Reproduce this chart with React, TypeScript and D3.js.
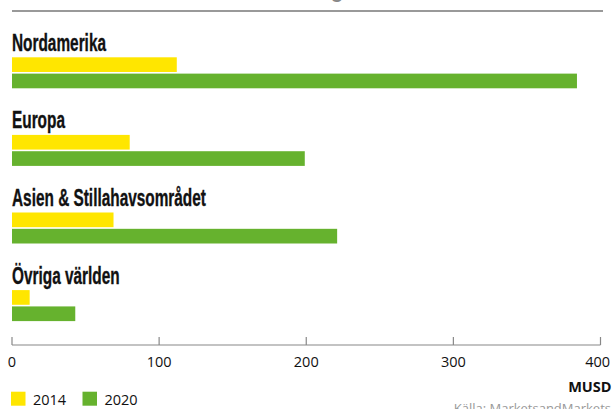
import React from 'react';
import * as d3 from 'd3';

// Marknadsdata per region (MUSD)
const regions = ['Nordamerika', 'Europa', 'Asien & Stillahavsområdet', 'Övriga världen'];
const years = ['2014', '2020'];
const values2014 = [112, 80, 69, 12];
const values2020 = [384, 199, 221, 43];
const xTicks = [0, 100, 200, 300, 400];
const unitLabel = 'MUSD';
const sourceLabel = 'Källa: MarketsandMarkets';

const colors = ['#ffe600', '#66b22e'];
const W = 613;
const H = 409;

const App: React.FC = () => {
  const x = d3.scaleLinear().domain([0, 400]).range([12, 600.5]);
  const groupStep = 77.6;
  const y = d3.scaleBand<string>()
    .domain(regions)
    .range([57.3, 57.3 + groupStep * regions.length])
    .padding(0);
  const inner = d3.scaleBand<string>()
    .domain(years)
    .range([0, 31])
    .paddingInner(0.1);

  const series = [values2014, values2020];
  const axisY = 345;
  // condensed look: Arial-like bold squeezed horizontally
  const labelFont = "'Liberation Sans', Arial, sans-serif";
  const bodyFont = "'Open Sans', 'Noto Sans', sans-serif";

  return (
    <svg width={W} height={H} style={{ position: 'absolute', left: 0, top: 0, display: 'block' }}>
      <rect width={W} height={H} fill="#fff" />

      {/* cut-off title above + rule */}
      <text x={331} y={-2} fontFamily={labelFont} fontWeight="bold" fontSize={20} fill="#888">g</text>
      <line x1={12} x2={603} y1={11} y2={11} stroke="#999" strokeWidth={2} />

      {regions.map((r, i) => {
        const y0 = y(r)!;
        return (
          <g key={r}>
            <text
              x={12}
              y={y0 - 6.5}
              fontFamily={labelFont}
              fontWeight="bold"
              fontSize={23.3}
              fill="#111"
              stroke="#111"
              strokeWidth={0.35}
              transform="translate(12,0) scale(0.66,1) translate(-12,0)"
            >
              {r}
            </text>
            {years.map((yr, j) => (
              <rect
                key={yr}
                x={x(0)}
                y={y0 + inner(yr)!}
                width={x(series[j][i]) - x(0)}
                height={inner.bandwidth()}
                fill={colors[j]}
              />
            ))}
          </g>
        );
      })}

      {/* x axis */}
      <line x1={x(0)} x2={x(400)} y1={axisY} y2={axisY} stroke="#888" strokeWidth={1.2} />
      {xTicks.map((t, i) => (
        <g key={t}>
          <line x1={x(t)} x2={x(t)} y1={axisY - 8} y2={axisY} stroke="#888" strokeWidth={1.2} />
          <text
            x={i === xTicks.length - 1 ? 610 : x(t)}
            y={367}
            textAnchor={i === xTicks.length - 1 ? 'end' : 'middle'}
            fontFamily={bodyFont}
            fontSize={14.5}
            fill="#111"
          >
            {t}
          </text>
        </g>
      ))}
      <text x={611.5} y={391.5} textAnchor="end" fontFamily={bodyFont} fontWeight="bold" fontSize={14.5} fill="#111">
        {unitLabel}
      </text>

      {/* legend */}
      {years.map((yr, j) => (
        <g key={yr} transform={`translate(${11 + j * 71.5},391.7)`}>
          <rect width={14.5} height={14} fill={colors[j]} />
          <text x={22} y={13.3} fontFamily={bodyFont} fontSize={14.5} fill="#111">{yr}</text>
        </g>
      ))}

      <text x={611} y={412.5} textAnchor="end" fontFamily={bodyFont} fontSize={13} fill="#999">{sourceLabel}</text>
    </svg>
  );
};

export default App;
